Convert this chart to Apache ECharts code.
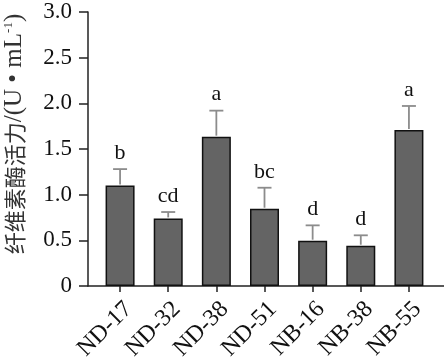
<!DOCTYPE html>
<html><head><meta charset="utf-8">
<script src="https://cdn.jsdelivr.net/npm/echarts@6/dist/echarts.min.js"></script>
<style>html,body{margin:0;padding:0;background:#fff}#c{width:444px;height:362px}</style>
</head><body><div id="c"></div>
<script>
const categories = ['ND-17','ND-32','ND-38','ND-51','NB-16','NB-38','NB-55'];
const values = [1.10, 0.74, 1.635, 0.846, 0.496, 0.441, 1.708];
const errors = [0.18, 0.07, 0.285, 0.23, 0.168, 0.114, 0.263];
const letters = ['b','cd','a','bc','d','d','a'];
const yTicks = [0, 0.5, 1.0, 1.5, 2.0, 2.5, 3.0];

const serif = 'Liberation Serif, Times New Roman, serif';
const chart = echarts.init(document.getElementById('c'));
chart.setOption({
  animation: false,
  grid: [
    {left: 96, width: 337, top: 12, bottom: 76, containLabel: false, outerBoundsMode: 'none'},
    {left: 88, right: 0, top: 12, bottom: 76, containLabel: false, outerBoundsMode: 'none'}
  ],
  xAxis: [
    {type: 'category', gridIndex: 0, data: categories,
     axisLine: {show: false},
     axisTick: {show: true, alignWithLabel: true, length: 6, lineStyle: {color: '#222', width: 1.5}},
     axisLabel: {rotate: 45, margin: 11, verticalAlign: 'top', color: '#111', fontFamily: serif, fontSize: 24}},
    {type: 'value', gridIndex: 1, min: 0, max: 1,
     axisLine: {show: true, lineStyle: {color: '#222', width: 1.5}},
     axisTick: {show: false}, axisLabel: {show: false}, splitLine: {show: false}}
  ],
  yAxis: [
    {type: 'value', gridIndex: 0, min: yTicks[0], max: yTicks[yTicks.length-1], interval: 0.5, offset: 8,
     axisLine: {show: true, lineStyle: {color: '#222', width: 1.5}},
     axisTick: {show: true, length: 9, lineStyle: {color: '#222', width: 1.5}},
     axisLabel: {margin: 16, color: '#111', fontFamily: serif, fontSize: 23,
       formatter: v => v === 0 ? '0' : v.toFixed(1)},
     splitLine: {show: false},
     name: '{a|纤维素酶活力}{b|/(U • mL}{c|-1}{b|)}', nameLocation: 'middle', nameGap: 61,
     nameTextStyle: {color: '#333', padding: [0, 0, 0, 30],
       rich: {
         a: {fontFamily: 'Noto Sans CJK SC', fontSize: 22, color: '#333'},
         b: {fontFamily: serif, fontSize: 25, color: '#333'},
         c: {fontFamily: serif, fontSize: 13, color: '#333', verticalAlign: 'top', padding: [0, 0, 11, 0]}
       }}},
    {type: 'value', gridIndex: 1, show: false, min: 0, max: 1}
  ],
  series: [
    {type: 'bar', xAxisIndex: 0, yAxisIndex: 0, data: values, barWidth: 29,
     itemStyle: {color: '#646464', borderColor: '#111', borderWidth: 1.5}},
    {type: 'custom', xAxisIndex: 0, yAxisIndex: 0, z: 5,
     data: values.map((v, i) => [i, v, errors[i]]),
     renderItem: function (params, api) {
       const base = api.coord([api.value(0), api.value(1)]);
       const top = api.coord([api.value(0), api.value(1) + api.value(2)]);
       const ls = {stroke: '#8c8c8c', lineWidth: 1.8};
       return {type: 'group', children: [
         {type: 'line', shape: {x1: base[0], y1: base[1] - 1, x2: top[0], y2: top[1]}, style: ls},
         {type: 'line', shape: {x1: top[0] - 7, y1: top[1], x2: top[0] + 7, y2: top[1]}, style: ls},
         {type: 'text', style: {text: letters[params.dataIndex], x: top[0], y: top[1] - 5,
           textAlign: 'center', textVerticalAlign: 'bottom',
           font: '22px ' + serif, fill: '#111'}}
       ]};
     }}
  ]
});
</script></body></html>
